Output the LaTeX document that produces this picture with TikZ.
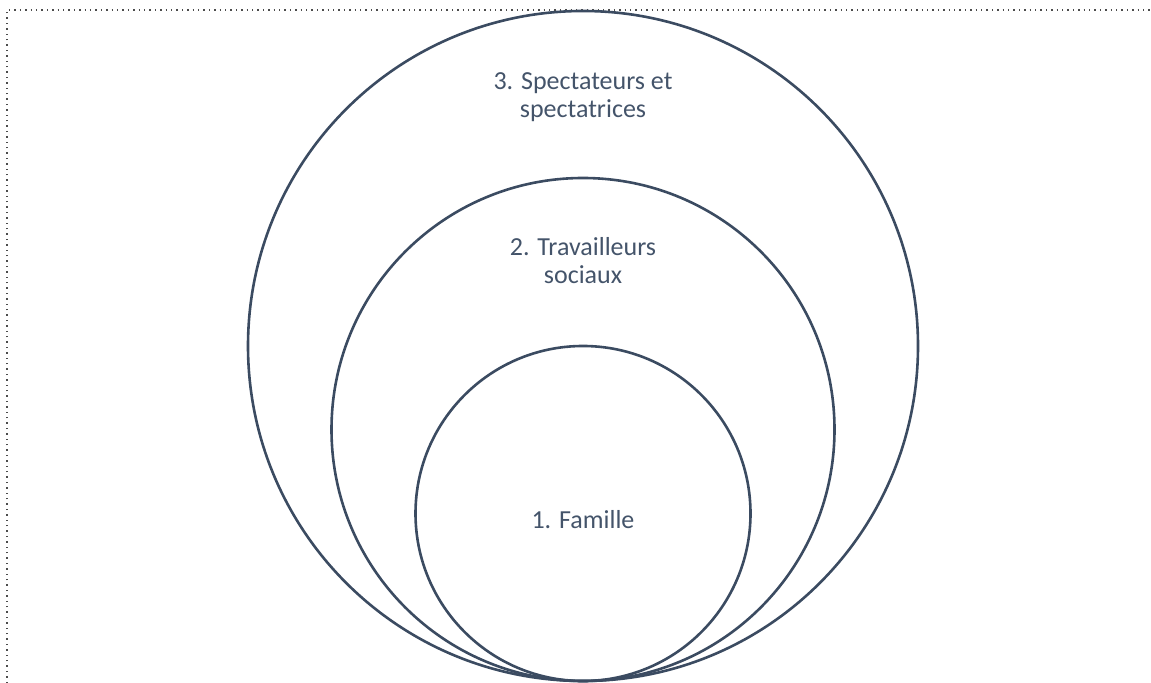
\documentclass[tikz,border=0pt]{standalone}
\usepackage{fontspec}
\setmainfont{Carlito}
\usetikzlibrary{positioning}
\definecolor{slate}{HTML}{44546A}
\definecolor{ringcol}{HTML}{3B4B61}

\begin{document}
\begin{tikzpicture}[x=0.5pt,y=-0.5pt,font=\fontsize{13}{14}\selectfont,
 ring/.style={draw=ringcol,line width=1.3pt,circle,inner sep=0pt},
 lbl/.style={text=slate,align=center}]
\useasboundingbox (0,0) rectangle (1151,683);
\draw[black!70,dotted,line width=0.7pt] (7,683) -- (7,10) -- (1151,10);
\node[ring,minimum size=335pt] (outer) at (583,346) {};
\node[ring,minimum size=251.5pt] (middle) at (583,429.5) {};
\node[ring,minimum size=167.5pt] (inner) at (583,513.5) {};
\node[lbl] (spect) at (583,97) {3. Spectateurs et\\spectatrices};
\node[lbl] (trav) at (583,261) {2. Travailleurs\\sociaux};
\node[lbl] (fam) at (583,520) {1. Famille};
\end{tikzpicture}
\end{document}
